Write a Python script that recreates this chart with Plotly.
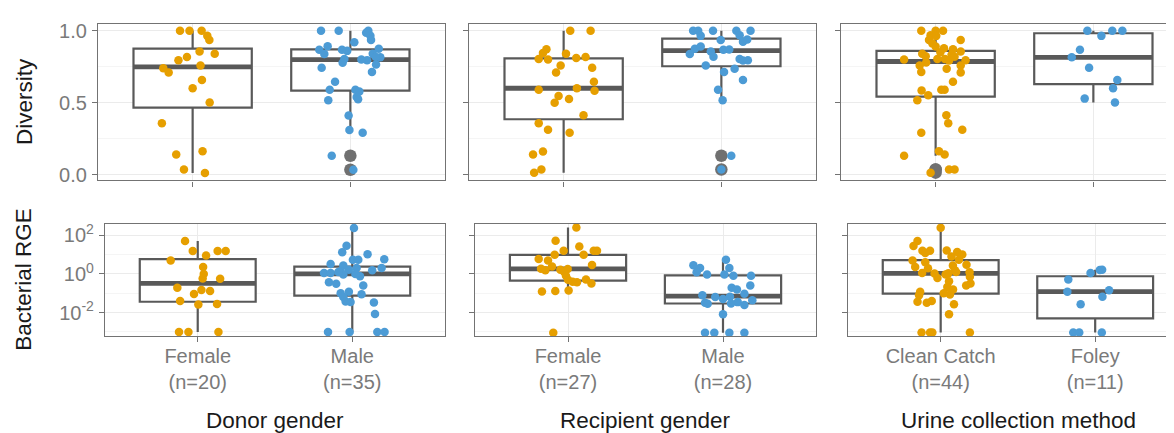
import numpy as np
import plotly.graph_objects as go

# ---------------- text / categories ----------------
donor_categories = ["Female", "Male"]
recipient_categories = ["Female", "Male"]
urine_categories = ["Clean Catch", "Foley"]
facet_titles = ["Donor gender", "Recipient gender", "Urine collection method"]
row_titles = ["Diversity", "Bacterial RGE"]
diversity_ticks = [0.0, 0.5, 1.0]
diversity_ticklabels = ["0.0", "0.5", "1.0"]
rge_log_ticks = [-2, 0, 2]
rge_ticklabels = ["10<sup>-2</sup>", "10<sup>0</sup>", "10<sup>2</sup>"]

# ---------------- Diversity values ----------------
donor_female_div = [1.0, 1.0, 1.0, 0.964, 0.935, 0.818, 0.795, 0.856, 0.84, 0.739, 0.71, 0.759, 0.658,
                    0.601, 0.502, 0.358, 0.142, 0.164, 0.038, 0.014]
donor_male_div = [1.0, 1.0, 1.0, 0.964, 0.935, 0.919, 0.892, 0.867, 0.838, 0.867, 0.804, 0.777, 0.874,
                  0.84, 0.815, 0.795, 0.766, 0.714, 0.743, 0.646, 0.59, 0.518, 0.59, 0.579, 0.541, 0.525,
                  0.412, 0.311, 0.293, 0.133, 0.036, 0.80, 0.86, 0.82, 0.985]
recip_female_div = [1.0, 1.0, 0.872, 0.845, 0.804, 0.8, 0.84, 0.811, 0.818, 0.759, 0.71, 0.743, 0.646,
                    0.59, 0.601, 0.583, 0.547, 0.5, 0.527, 0.414, 0.358, 0.313, 0.293, 0.142, 0.162,
                    0.016, 0.038]
recip_male_div = [1.0, 1.0, 1.0, 1.0, 1.0, 0.964, 0.935, 0.968, 0.923, 0.939, 0.874, 0.89, 0.838, 0.856,
                  0.867, 0.804, 0.793, 0.795, 0.759, 0.714, 0.736, 0.658, 0.59, 0.518, 0.133, 0.038,
                  0.87, 0.82]
catch_div = [1.0, 1.0, 1.0, 0.968, 0.964, 0.935, 0.912, 0.935, 0.89, 0.878, 0.872, 0.856, 0.84, 0.822,
             0.8, 0.804, 0.804, 0.833, 0.793, 0.795, 0.759, 0.736, 0.759, 0.714, 0.71, 0.646, 0.586,
             0.59, 0.59, 0.552, 0.518, 0.414, 0.358, 0.293, 0.313, 0.164, 0.142, 0.133, 0.016, 0.038,
             0.038, 0.85, 0.78, 0.82]
foley_div = [1.0, 1.0, 1.0, 0.964, 0.867, 0.815, 0.743, 0.658, 0.601, 0.529, 0.502]

# ---------------- Bacterial RGE values (log10) ----------------
donor_female_log_rge = [1.70, 0.70, 1.19, 0.95, 1.19, 1.19, 0.36, 0.0, -0.24, -0.255, -0.715, -0.83,
                        -1.04, -0.885, -1.40, -1.58, -1.56, -3.01, -3.01, -3.01]
donor_male_log_rge = [2.38, 1.46, 1.12, 1.02, 0.73, 0.73, 0.766, 0.51, 0.44, 0.31, 0.22, 0.19, 0.31,
                      0.05, 0.05, 0.14, -0.03, -0.12, -0.43, -0.51, -0.6, -0.92, -1.0, -1.05, -1.2,
                      -1.45, -1.43, -1.48, -2.08, -3.01, -3.01, -3.01, -3.01, 0.1, 0.0]
recip_female_log_rge = [2.40, 1.72, 1.42, 1.2, 0.99, 1.2, 1.2, 0.99, 0.77, 0.70, 0.46, 0.27, 0.19, 0.39,
                        0.22, 0.26, 0.10, -0.09, -0.29, -0.43, -0.5, -0.91, -0.89, -0.86, -3.04, -0.3,
                        -0.4]
recip_male_log_rge = [0.74, 0.45, 0.31, 0.09, 0.31, -0.03, -0.03, -0.09, -0.09, -0.6, -0.72, -1.11,
                      -1.03, -1.18, -1.49, -1.53, -1.46, -1.61, -1.36, -1.54, -2.09, -3.04, -3.04,
                      -3.04, -3.04, -1.3, -0.8, -1.2]
catch_log_rge = [2.39, 1.71, 1.45, 1.2, 1.2, 1.21, 1.13, 1.08, 0.74, 0.48, 0.70, 0.36, 0.29, 0.43, 0.19,
                 0.09, -0.15, -0.21, -0.03, -0.38, -0.68, -0.5, -0.6, -0.92, -1.06, -1.44, -1.49, -1.40,
                 -1.57, -2.09, -3.03, -3.03, -3.03, -3.03, -1.1, -1.0, -0.8, 0.02, 0.03, 0.05, 0.1, 0.6,
                 0.9, 1.0]
foley_log_rge = [-0.29, 0.05, 0.2, 0.22, -0.92, -0.85, -1.18, -1.57, -3.03, -3.03, -3.03]

# ---------------- jitter offsets ----------------
donor_female_div_jit = [-0.08, -0.02, 0.057, 0.093, 0.106, -0.036, -0.09, 0.044, 0.14, -0.186, -0.152,
                        0.05, 0.059, 0.0, 0.108, -0.195, -0.104, 0.063, -0.055, 0.078]
donor_male_div_jit = [-0.186, -0.074, 0.114, 0.127, 0.131, 0.025, -0.144, -0.197, -0.165, -0.053,
                      -0.038, -0.049, 0.18, 0.142, 0.19, 0.106, 0.163, 0.137, -0.182, -0.097, -0.131,
                      -0.14, 0.032, 0.057, 0.04, 0.049, -0.011, -0.006, 0.078, -0.118, 0.019, 0.07,
                      -0.02, 0.16, 0.1]
recip_female_div_jit = [0.042, 0.171, -0.109, -0.131, -0.158, -0.099, 0.015, 0.08, 0.139, -0.019,
                        -0.048, 0.181, 0.192, -0.158, 0.084, 0.196, -0.032, -0.057, 0.034, 0.126,
                        -0.158, -0.099, 0.038, -0.194, -0.131, -0.187, -0.141]
recip_male_div_jit = [-0.179, -0.147, -0.053, 0.095, 0.185, -0.131, -0.004, 0.116, 0.137, 0.164,
                      -0.168, -0.131, -0.2, -0.067, 0.013, 0.116, 0.137, 0.168, -0.099, 0.017, 0.084,
                      0.137, -0.021, 0.008, 0.063, 0.0, 0.05, -0.05]
catch_div_jit = [-0.091, 0.0, 0.047, -0.032, 0.004, -0.042, -0.021, 0.159, 0.0, 0.053, 0.11, 0.159,
                 -0.085, -0.063, -0.2, 0.011, 0.059, 0.101, 0.085, 0.19, -0.101, 0.07, 0.159, -0.091,
                 0.159, 0.11, -0.089, 0.036, 0.057, -0.047, -0.116, 0.068, 0.08, -0.091, 0.169, 0.021,
                 0.057, -0.2, -0.032, 0.085, 0.12, 0.03, -0.06, 0.12]
foley_div_jit = [-0.038, 0.12, 0.184, 0.051, -0.085, -0.137, -0.027, 0.152, 0.125, -0.055, 0.137]

donor_female_rge_jit = [-0.082, -0.175, -0.032, 0.054, 0.129, 0.181, 0.035, 0.039, 0.032, 0.145, -0.132,
                        0.024, -0.024, 0.08, -0.114, 0.004, 0.125, -0.121, -0.06, 0.134]
donor_male_rge_jit = [0.011, -0.037, -0.065, 0.099, 0.004, 0.039, 0.207, -0.14, -0.058, 0.028, -0.022,
                      0.129, 0.19, -0.183, -0.14, -0.075, -0.058, 0.05, -0.151, -0.104, 0.071, -0.022,
                      -0.075, 0.06, -0.058, -0.011, -0.043, 0.14, 0.147, -0.157, -0.017, 0.162, 0.209,
                      -0.09, 0.02]
recip_female_rge_jit = [0.054, -0.08, 0.073, -0.028, -0.086, 0.166, 0.187, 0.101, -0.189, -0.129, 0.155,
                        -0.174, -0.146, -0.103, -0.049, -0.002, -0.024, -0.013, 0.116, 0.058, 0.151,
                        -0.168, -0.082, 0.004, -0.095, 0.0, 0.03]
recip_male_rge_jit = [0.019, -0.191, -0.148, -0.17, 0.041, -0.103, 0.009, 0.067, 0.181, 0.176, 0.056,
                      -0.133, 0.138, 0.045, -0.116, 0.052, 0.095, 0.138, 0.189, -0.099, 0.0, -0.116,
                      -0.056, 0.041, 0.138, 0.0, 0.09, -0.05]
catch_rge_jit = [0.0, -0.15, -0.176, -0.118, -0.069, 0.039, 0.107, -0.1, 0.118, 0.167, -0.182, -0.165,
                 -0.082, 0.079, 0.092, 0.187, 0.189, -0.021, 0.032, 0.054, 0.043, 0.193, 0.165, -0.133,
                 0.06, -0.15, -0.09, -0.058, 0.086, 0.054, -0.124, -0.054, 0.189, -0.069, -0.14, 0.02,
                 0.08, -0.04, 0.05, -0.12, 0.1, -0.1, 0.07, 0.14]
foley_rge_jit = [-0.174, -0.03, 0.03, 0.045, -0.18, 0.09, 0.047, -0.094, -0.142, -0.103, 0.043]

# ---------------- styling ----------------
W, H = 1174, 433
ORANGE = "#E69F00"
BLUE = "#4C9BD5"
BOX_LINE = "#595959"
OUTLIER = "#707070"
BORDER = "#737373"
GRID_MAJOR = "#ebebeb"
GRID_MINOR = "#f5f5f5"
TICK_TEXT = "#7a7a7a"
FONT = "Liberation Sans, Arial, sans-serif"
TICK_SIZE = 20
TITLE_SIZE = 22.5


def fx(p):
    return p / W


def fy(p):
    return 1 - p / H


top_y = (12, 172)
bot_y = (216, 331)
top_x = [(90, 437), (461, 808), (833, 1174)]
bot_x = [(97, 437), (467, 808), (840, 1174)]
x_ranges = [[0.4, 2.6], [0.4, 2.6], [0.4, 2.562]]
div_range = [-0.038, 1.048]
rge_range = [-3.22, 2.61]

facets = [
    (donor_categories,
     [(donor_female_div, donor_female_div_jit), (donor_male_div, donor_male_div_jit)],
     [(donor_female_log_rge, donor_female_rge_jit), (donor_male_log_rge, donor_male_rge_jit)]),
    (recipient_categories,
     [(recip_female_div, recip_female_div_jit), (recip_male_div, recip_male_div_jit)],
     [(recip_female_log_rge, recip_female_rge_jit), (recip_male_log_rge, recip_male_rge_jit)]),
    (urine_categories,
     [(catch_div, catch_div_jit), (foley_div, foley_div_jit)],
     [(catch_log_rge, catch_rge_jit), (foley_log_rge, foley_rge_jit)]),
]

fig = go.Figure()


def box_stats(vals):
    v = np.asarray(vals, dtype=float)
    q1, med, q3 = np.percentile(v, [25, 50, 75])
    iqr = q3 - q1
    lo_f, hi_f = q1 - 1.5 * iqr, q3 + 1.5 * iqr
    inside = v[(v >= lo_f) & (v <= hi_f)]
    outl = v[(v < lo_f) | (v > hi_f)]
    return q1, med, q3, inside.min(), inside.max(), outl


def add_panel(xa, ya, groups, show_outliers):
    colors = [ORANGE, BLUE]
    pts = []
    for i, (vals, jit) in enumerate(groups):
        pos = i + 1
        q1, med, q3, lo, hi, outl = box_stats(vals)
        fig.add_trace(go.Box(x=[pos], q1=[q1], median=[med], q3=[q3], lowerfence=[lo], upperfence=[hi],
                             width=0.75, whiskerwidth=0, fillcolor="white",
                             line=dict(color=BOX_LINE, width=2.2), boxpoints=False,
                             xaxis=xa, yaxis=ya, hoverinfo="skip"))
        fig.add_trace(go.Scatter(x=[pos - 0.375, pos + 0.375], y=[med, med], mode="lines",
                                 line=dict(color=BOX_LINE, width=4.8), xaxis=xa, yaxis=ya,
                                 hoverinfo="skip"))
        if show_outliers and len(outl):
            fig.add_trace(go.Scatter(x=[pos] * len(outl), y=list(outl), mode="markers",
                                     marker=dict(color=OUTLIER, size=12.5), xaxis=xa, yaxis=ya,
                                     hoverinfo="skip"))
        pts.append(go.Scatter(x=[pos + j for j in jit], y=vals, mode="markers",
                              marker=dict(color=colors[i], size=8.5, line=dict(width=0)),
                              xaxis=xa, yaxis=ya))
    for p in pts:
        fig.add_trace(p)


layout = {}
for c, (cats, div_groups, rge_groups) in enumerate(facets):
    for r in range(2):
        idx = r * 3 + c + 1
        xa = "x" if idx == 1 else f"x{idx}"
        ya = "y" if idx == 1 else f"y{idx}"
        xkey = "xaxis" if idx == 1 else f"xaxis{idx}"
        ykey = "yaxis" if idx == 1 else f"yaxis{idx}"
        xd = top_x[c] if r == 0 else bot_x[c]
        yd = top_y if r == 0 else bot_y
        groups = div_groups if r == 0 else rge_groups
        add_panel(xa, ya, groups, show_outliers=(r == 0))
        ticktext = [f"{cat}<br>(n={len(g[0])})" for cat, g in zip(cats, groups)]
        layout[xkey] = dict(
            domain=[fx(xd[0]), fx(xd[1])], range=x_ranges[c], anchor=ya,
            tickvals=[1, 2], ticktext=ticktext, showticklabels=(r == 1),
            ticks="outside", ticklen=5, tickwidth=1.1, tickcolor=BORDER, ticklabelstandoff=-3,
            showgrid=True, gridcolor=GRID_MAJOR, gridwidth=1.1, zeroline=False,
            showline=True, linecolor=BORDER, linewidth=1.2, mirror=True,
            tickfont=dict(family=FONT, size=TICK_SIZE, color=TICK_TEXT), fixedrange=True)
        if r == 0:
            yt, ytt, yminor, yr = diversity_ticks, diversity_ticklabels, [0.25, 0.75], div_range
        else:
            yt, ytt, yminor, yr = rge_log_ticks, rge_ticklabels, [-3, -1, 1], rge_range
        layout[ykey] = dict(
            domain=[fy(yd[1]), fy(yd[0])], range=yr, anchor=xa,
            tickvals=yt, ticktext=ytt, showticklabels=(c == 0),
            ticks="outside", ticklen=5, tickwidth=1.1, tickcolor=BORDER, ticklabelstandoff=1,
            showgrid=True, gridcolor=GRID_MAJOR, gridwidth=1.1, zeroline=False,
            minor=dict(tickvals=yminor, showgrid=True, gridcolor=GRID_MINOR, gridwidth=0.7),
            showline=True, linecolor=BORDER, linewidth=1.2, mirror=(c != 2),
            tickfont=dict(family=FONT, size=TICK_SIZE, color=TICK_TEXT), fixedrange=True)

annotations = []
title_centers = [(97 + 437) / 2, (467 + 808) / 2, (840 + 1180) / 2]
for t, xc in zip(facet_titles, title_centers):
    annotations.append(dict(text=t, x=fx(xc), y=fy(417), xref="paper", yref="paper",
                            xanchor="center", yanchor="middle", showarrow=False,
                            font=dict(family=FONT, size=TITLE_SIZE, color="#1a1a1a")))
for t, yc in zip(row_titles, [(top_y[0] + top_y[1]) / 2, (bot_y[0] + bot_y[1]) / 2]):
    annotations.append(dict(text=t, x=fx(16), y=fy(yc), xref="paper", yref="paper",
                            xanchor="center", yanchor="middle", textangle=-90, showarrow=False,
                            font=dict(family=FONT, size=TITLE_SIZE, color="#1a1a1a")))

fig.update_layout(
    width=W, height=H, margin=dict(l=0, r=0, t=0, b=0),
    paper_bgcolor="white", plot_bgcolor="white", showlegend=False,
    boxmode="overlay", annotations=annotations, **layout)

fig.write_html("out.html")
